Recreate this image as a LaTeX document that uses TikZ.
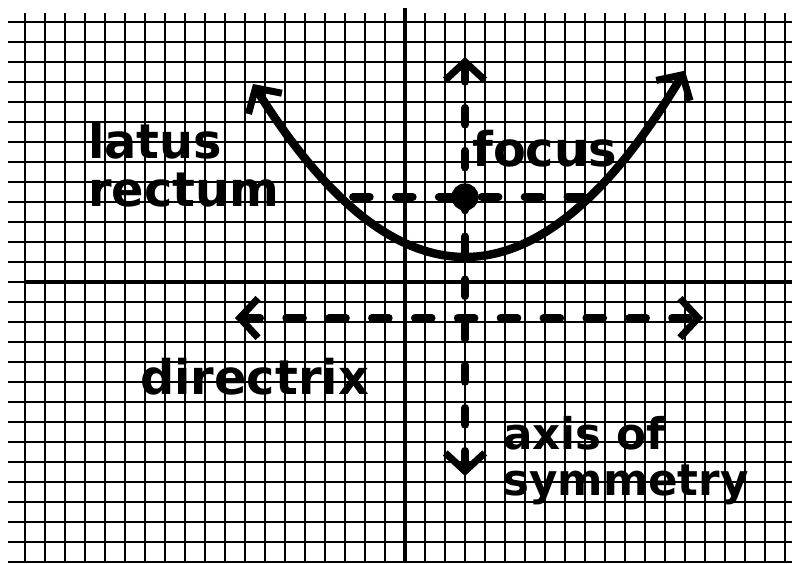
\documentclass[tikz,border=0pt]{standalone}
\usepackage{fontspec}
\setmainfont{DejaVu Sans}
\usepackage{tikz}
\usetikzlibrary{positioning, arrows.meta}

\begin{document}
\begin{tikzpicture}[
    x=0.5cm, y=0.5cm,
    gridline/.style={
        line width=1.2pt
    },
    axisline/.style={
        line width=3pt
    },
    curve/.style={
        line width=6pt,
        line cap=round
    },
    dashline/.style={
        line width=5.5pt,
        line cap=round,
        dash pattern=on 12pt off 18.5pt
    },
    barbs/.style={
        {Straight Barb[length=13pt, width=28pt, line width=5pt]}-{Straight Barb[length=13pt, width=28pt, line width=5pt]}
    },
    handtext/.style={
        anchor=north west,
        inner sep=0pt,
        align=left,
        font=\bfseries\fontsize{34}{34}\selectfont
    }
]

\useasboundingbox[fill=white] (-20.25,-14.05) rectangle (19.35,14.1);

% graph paper
\foreach \i in {-19,...,19}
    \draw[gridline] (\i,13.45) -- (\i,-14.05);
\foreach \j in {-14,...,13}
    \draw[gridline, line width=1.5pt] (-19.85,\j) -- (19.35,\j);

% axes
\draw[axisline] (0,13.7) -- (0,-14.05);
\draw[axisline] (-19,0) -- (19.35,0);

% parabola
\draw[curve, barbs] plot[domain=-7.6:14, samples=80] (\x, {1.25+0.077*(\x-3)^2});

% end points of the dashed lines
\coordinate (latL) at (-2.6,4.25);
\coordinate (latR) at (9.0,4.25);
\coordinate (dirL) at (-8.5,-1.8);
\coordinate (dirR) at (14.9,-1.8);
\coordinate (axT) at (3,11.25);
\coordinate (axB) at (3,-9.7);

\draw[dashline] (latL) -- (latR);
\draw[dashline, barbs] (dirL) -- (dirR);
\draw[dashline, barbs] (axB) -- (axT);

\node[circle, fill=black, minimum size=0.68cm, inner sep=0pt] (focus) at (3,4.25) {};

% labels
\node[handtext] (latus) at (-15.85,8.0) {latus\\rectum};
\node[handtext] (focuslabel) at (3.35,7.6) {focus};
\node[handtext] (directrix) at (-13.25,-3.8) {directrix};
\node[handtext, font=\bfseries\fontsize{31}{33}\selectfont] (symmetry) at (4.9,-6.7) {axis of\\symmetry};

\end{tikzpicture}
\end{document}
